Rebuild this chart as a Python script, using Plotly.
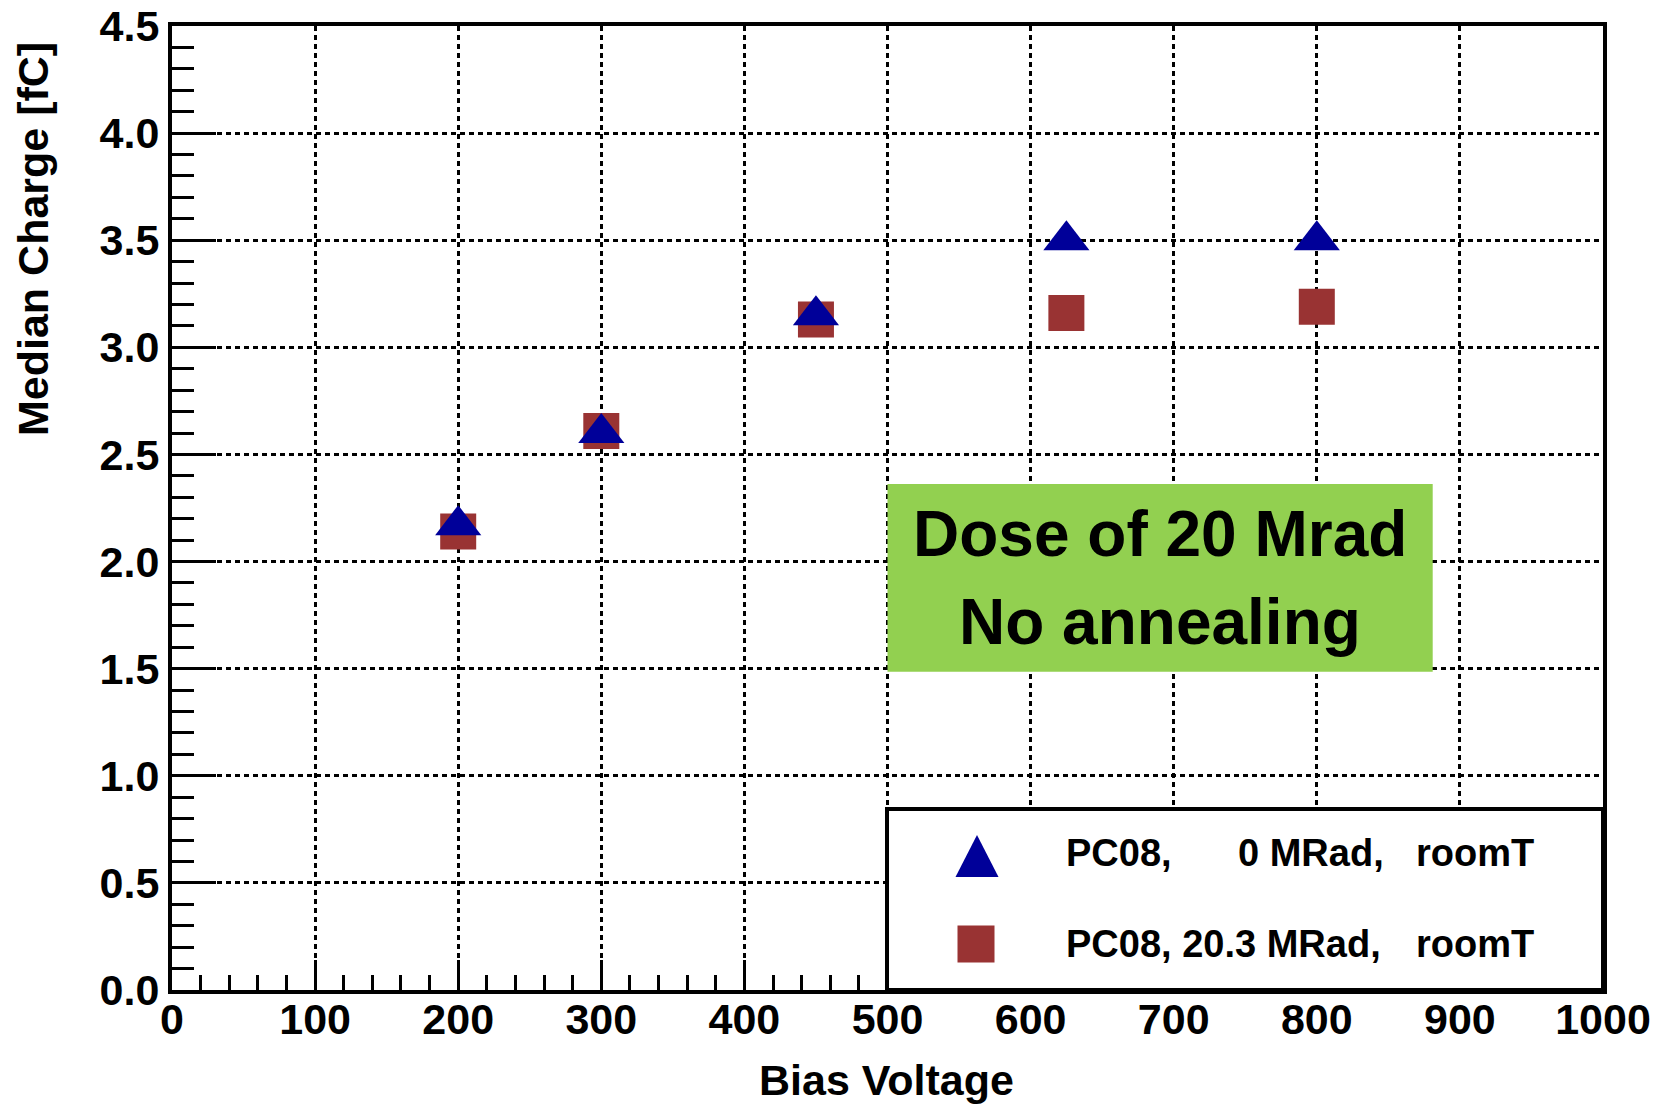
import plotly.graph_objects as go

# ---- data ----
bias_voltage = [200, 300, 450, 625, 800]
charge_0mrad = [2.17, 2.60, 3.15, 3.50, 3.50]
charge_20mrad = [2.14, 2.61, 3.13, 3.16, 3.19]

series_names = ["PC08,      0 MRad,   roomT", "PC08, 20.3 MRad,   roomT"]
x_ticks = [0, 100, 200, 300, 400, 500, 600, 700, 800, 900, 1000]
y_ticks = [0.0, 0.5, 1.0, 1.5, 2.0, 2.5, 3.0, 3.5, 4.0, 4.5]

BLUE = "#000099"
RED = "#993333"
GREEN = "#92d050"
FONT = "Liberation Sans"

W, H = 1656, 1104
L, R, T, B = 172, 53, 26, 114
PW, PH = W - L - R, H - T - B


def px2paper_x(px):
    return (px - L) / PW


def px2paper_y(py):
    return (H - B - py) / PH


fig = go.Figure()

fig.add_trace(go.Scatter(
    x=bias_voltage, y=charge_20mrad, mode="markers", name=series_names[1],
    marker=dict(symbol="square", size=36, color=RED, line=dict(width=0)),
    showlegend=False,
))
fig.add_trace(go.Scatter(
    x=bias_voltage, y=charge_0mrad, mode="markers", name=series_names[0],
    marker=dict(symbol="triangle-up", size=40, color=BLUE, line=dict(width=0)),
    showlegend=False,
))

axis_common = dict(
    showline=True, linecolor="black", linewidth=4, mirror=True,
    showgrid=True, gridcolor="black", gridwidth=2.5, griddash="5px,4px",
    ticks="inside", tickcolor="black", tickwidth=3,
    tickfont=dict(family=FONT, size=43, color="black", weight="bold"),
    zeroline=False, automargin=False,
)

fig.update_xaxes(
    range=[0, 1000], tickvals=x_ticks, ticktext=[str(v) for v in x_ticks],
    ticklen=30, ticklabelstandoff=-12,
    minor=dict(dtick=20, ticklen=15, tickwidth=3, tickcolor="black", ticks="inside", showgrid=False),
    **axis_common,
)
fig.update_yaxes(
    range=[0, 4.5], tickvals=y_ticks, ticktext=[f"{v:.1f}" for v in y_ticks],
    ticklen=44,
    minor=dict(dtick=0.1, ticklen=22, tickwidth=3, tickcolor="black", ticks="inside", showgrid=False),
    **axis_common,
)

shapes = []
# green info box
shapes.append(dict(type="rect", xref="x", yref="y", x0=500, x1=881, y0=1.486, y1=2.362,
                   fillcolor=GREEN, line=dict(width=0), layer="above"))
# legend box
shapes.append(dict(type="rect", xref="paper", yref="paper", x0=px2paper_x(887), x1=1.0,
                   y0=0.0, y1=px2paper_y(809),
                   fillcolor="white", line=dict(color="black", width=4), layer="above"))
# legend symbols
tx, ty = px2paper_x(977), px2paper_y(856)
dx, dy = 21.5 / PW, 21 / PH
shapes.append(dict(type="path", xref="paper", yref="paper",
                   path=f"M {tx-dx},{ty-dy} L {tx+dx},{ty-dy} L {tx},{ty+dy} Z",
                   fillcolor=BLUE, line=dict(width=0), layer="above"))
sx, sy = px2paper_x(976), px2paper_y(944)
hx, hy = 18.5 / PW, 18.5 / PH
shapes.append(dict(type="rect", xref="paper", yref="paper",
                   x0=sx-hx, x1=sx+hx, y0=sy-hy, y1=sy+hy,
                   fillcolor=RED, line=dict(width=0), layer="above"))

ann = []
bold = dict(family=FONT, color="black", weight="bold")
# axis titles
ann.append(dict(text="Median Charge [fC]", textangle=-90, xref="paper", yref="paper",
                x=px2paper_x(33), y=px2paper_y(40), xanchor="center", yanchor="top",
                showarrow=False, font=dict(size=43, **bold)))
ann.append(dict(text="Bias Voltage", xref="paper", yref="paper",
                x=px2paper_x(886), y=px2paper_y(1080), xanchor="center", yanchor="middle",
                showarrow=False, font=dict(size=43, **bold)))
# green box text
ann.append(dict(text="Dose of 20 Mrad", xref="paper", yref="paper",
                x=px2paper_x(1160), y=px2paper_y(534), xanchor="center", yanchor="middle",
                showarrow=False, font=dict(size=64, **bold)))
ann.append(dict(text="No annealing", xref="paper", yref="paper",
                x=px2paper_x(1160), y=px2paper_y(622), xanchor="center", yanchor="middle",
                showarrow=False, font=dict(size=64, **bold)))
# legend text
legend_font = dict(size=38, **bold)
row1_y, row2_y = 853, 944
ann.append(dict(text="PC08,", xref="paper", yref="paper", x=px2paper_x(1064), y=px2paper_y(row1_y),
                xanchor="left", yanchor="middle", showarrow=False, font=legend_font))
ann.append(dict(text="0 MRad,", xref="paper", yref="paper", x=px2paper_x(1386), y=px2paper_y(row1_y),
                xanchor="right", yanchor="middle", showarrow=False, font=legend_font))
ann.append(dict(text="PC08, 20.3 MRad,", xref="paper", yref="paper", x=px2paper_x(1064), y=px2paper_y(row2_y),
                xanchor="left", yanchor="middle", showarrow=False, font=legend_font))
for ry in (row1_y, row2_y):
    ann.append(dict(text="roomT", xref="paper", yref="paper", x=px2paper_x(1414), y=px2paper_y(ry),
                    xanchor="left", yanchor="middle", showarrow=False, font=legend_font))

fig.update_layout(
    width=W, height=H, autosize=False,
    margin=dict(l=L, r=R, t=T, b=B, pad=0),
    paper_bgcolor="white", plot_bgcolor="white",
    shapes=shapes, annotations=ann, showlegend=False,
)

fig.write_html("out.html")
